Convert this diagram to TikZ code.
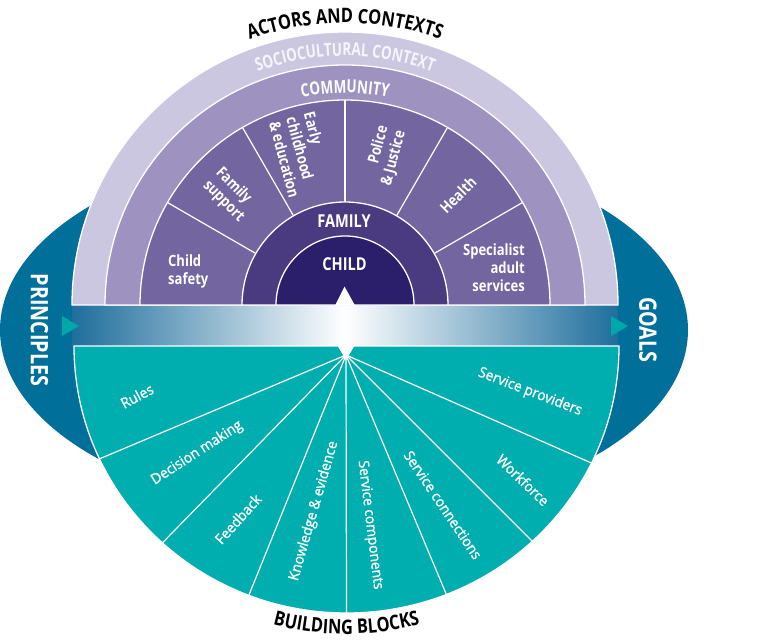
\documentclass[tikz,border=0pt]{standalone}
\usepackage{fontspec}
\setmainfont{Open Sans}
\newfontfamily\headfont[FakeStretch=0.82]{Open Sans}
\newfontfamily\headnarrow[FakeStretch=0.75]{Open Sans}
\newfontfamily\lblfont[FakeStretch=0.84]{Open Sans}
\newfontfamily\tealfont[FakeStretch=0.95,FakeBold=1.4]{Open Sans}
\usetikzlibrary{decorations.text,calc}
\definecolor{socio}{RGB}{204,199,225}
\definecolor{commu}{RGB}{157,146,192}
\definecolor{sector}{RGB}{114,101,160}
\definecolor{famc}{RGB}{74,58,128}
\definecolor{childc}{RGB}{43,31,107}
\definecolor{tealc}{RGB}{0,173,175}
\definecolor{tritc}{RGB}{0,168,170}
\definecolor{blueell}{RGB}{0,111,154}
\definecolor{bandblue}{RGB}{30,110,156}
\definecolor{sociotext}{RGB}{246,245,251}
\begin{document}
\begin{tikzpicture}[x=1pt,y=1pt,
  ring/.style={draw=white,line width=1.3pt},
  divider/.style={draw=white,line width=1.2pt},
  lbl/.style={text=white,font=\lblfont\bfseries\fontsize{15.5}{18}\selectfont,inner sep=0pt},
  tlbl/.style={text=white,font=\tealfont\fontsize{14.5}{17}\selectfont,inner sep=0pt},
  head/.style={text=white,font=\headfont\bfseries\fontsize{17.8}{18}\selectfont,inner sep=0pt},
  side/.style={text=white,font=\headfont\bfseries\fontsize{24}{24}\selectfont,inner sep=0pt,rotate=-90},
  arctext/.style={decorate,decoration={text along path,text align=center,#1}}
]
\useasboundingbox (0,0) rectangle (760,-643);
\coordinate (O) at (345,-305);
\coordinate (T) at (346.5,-346);
\coordinate (A) at (346,-355);

% background ellipse
\fill[blueell] (344,-330) ellipse [x radius=344, y radius=184];

% gradient band
\shade[left color=bandblue,right color=bandblue,middle color=white] (72,-305) rectangle (618,-346);

% upper rings
\filldraw[ring,fill=socio] (O) ++(180:273) arc[start angle=180,end angle=0,radius=273] -- cycle;
\filldraw[ring,fill=commu] (O) ++(180:240) arc[start angle=180,end angle=0,radius=240] -- cycle;
\filldraw[ring,fill=sector] (O) ++(180:205) arc[start angle=180,end angle=0,radius=205] -- cycle;
\foreach \a in {30,60,90,120,150} \draw[divider] (O) ++(\a:103) -- ++(\a:102);
\filldraw[ring,fill=famc] (O) ++(180:103) arc[start angle=180,end angle=0,radius=103] -- cycle;
\filldraw[ring,fill=childc] (O) ++(180:69) arc[start angle=180,end angle=0,radius=69] -- cycle;

% lower teal fan
\filldraw[ring,fill=tealc] (T) ++(180:272.5 and 267) arc[start angle=180,end angle=360,x radius=272.5,y radius=267] -- cycle;
\foreach \a [count=\i] in {205,227.5,249,270,291.5,313,334} {
  \path (T) ++(\a:272.5 and 267) coordinate (e\i);
  \draw[divider] (A) -- (e\i);
}

% white points
\fill[white] (335,-305.5) -- (344.5,-286.5) -- (355,-305.5) -- cycle;
\fill[white] (337,-345) -- (346,-360) -- (355,-345) -- cycle;

% teal triangles
\fill[tritc] (62,-316) -- (79,-326) -- (62,-336) -- cycle;
\fill[tritc] (611,-316) -- (628,-326) -- (611,-336) -- cycle;

% curved headings
\path[arctext={text color=black,text={|\headfont\bfseries\fontsize{20}{20}\selectfont|ACTORS AND CONTEXTS}}]
  (O) ++(150:282) arc[start angle=150,end angle=30,radius=282];
\path[arctext={text color=sociotext,text={|\headnarrow\bfseries\fontsize{18}{18}\selectfont|SOCIOCULTURAL CONTEXT}}]
  (O) ++(150:249) arc[start angle=150,end angle=30,radius=249];
\path[arctext={text color=white,text={|\headnarrow\bfseries\fontsize{18}{18}\selectfont|COMMUNITY}}]
  (O) ++(150:212) arc[start angle=150,end angle=30,radius=212];
\path[arctext={text color=black,text={|\headfont\bfseries\fontsize{20}{20}\selectfont|BUILDING BLOCKS}}]
  (T) ++(240:288) arc[start angle=240,end angle=300,radius=288];

% centre labels
\node[head] (family) at (344,-221.5) {FAMILY};
\node[head] (child) at (344.5,-264.5) {CHILD};
\node[side] (principles) at (39.5,-330) {PRINCIPLES};
\node[side] (goals) at (648,-330) {GOALS};

% sector labels
\node[lbl,align=left,anchor=west] (childsafety) at (168,-271) {Child\\safety};
\node[lbl,align=left,rotate=-45] (famsupport) at (230,-195) {Family\\support};
\node[lbl,align=left,rotate=-75] (earlyed) at (302,-155) {Early\\childhood\\\& education};
\node[lbl,align=right,rotate=75] (police) at (385,-156) {Police\\\& Justice};
\node[lbl,rotate=45] (health) at (458,-195) {Health};
\node[lbl,align=right,anchor=east] (specialist) at (525,-268) {Specialist\\adult\\services};

% building block labels
\node[tlbl,rotate=28] (rules) at (137,-396) {Rules};
\node[tlbl,rotate=33] (decision) at (197,-453) {Decision making};
\node[tlbl,rotate=48] (feedback) at (238,-519) {Feedback};
\node[tlbl,rotate=74] (knowledge) at (314,-511) {Knowledge \& evidence};
\node[tlbl,rotate=-83] (servcomp) at (370,-525) {Service components};
\node[tlbl,rotate=-56] (servconn) at (443,-505) {Service connections};
\node[tlbl,rotate=-44] (workforce) at (523,-480) {Workforce};
\node[tlbl,rotate=-21] (servprov) at (530,-392) {Service providers};
\end{tikzpicture}
\end{document}
